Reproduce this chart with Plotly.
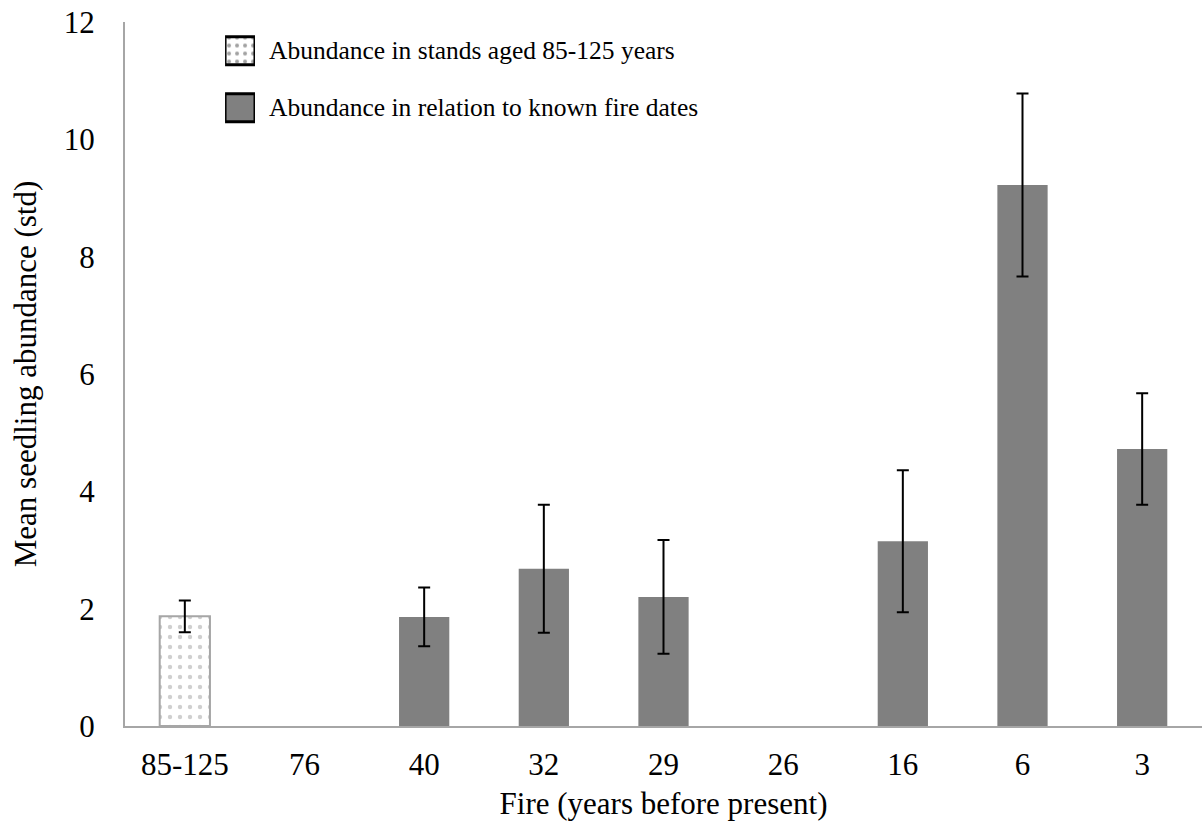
import plotly.graph_objects as go

categories = ["85-125", "76", "40", "32", "29", "26", "16", "6", "3"]
stand_cat = ["85-125"]
stand_mean = [1.87]
stand_err = [0.27]
fire_cat = ["76", "40", "32", "29", "26", "16", "6", "3"]
fire_mean = [0, 1.86, 2.68, 2.2, 0, 3.15, 9.22, 4.72]
fire_err = [None, 0.5, 1.09, 0.97, None, 1.21, 1.56, 0.95]
legend_labels = ["Abundance in stands aged 85-125 years",
                 "Abundance in relation to known fire dates"]

FONT = "Liberation Serif"
GRAY = "#808080"

fig = go.Figure()
fig.add_trace(go.Bar(
    x=stand_cat, y=stand_mean,
    marker=dict(color="white", line=dict(color="#a6a6a6", width=2),
                pattern=dict(shape=".", fgcolor="#a0a0a0", bgcolor="white", size=10, solidity=0.15)),
    error_y=dict(type="data", array=stand_err, color="black", thickness=2, width=6),
    showlegend=False,
))
fig.add_trace(go.Bar(
    x=fire_cat, y=fire_mean,
    marker=dict(color=GRAY, line=dict(width=0)),
    showlegend=False,
))
# error bars only where a std is given
err_y = [m if e is not None else None for m, e in zip(fire_mean, fire_err)]
err_v = [e if e is not None else 0 for e in fire_err]
fig.add_trace(go.Scatter(
    x=fire_cat, y=err_y, mode="markers", marker=dict(size=1, opacity=0),
    error_y=dict(type="data", array=err_v, color="black", thickness=2, width=6),
    showlegend=False, hoverinfo="skip",
))

# custom legend swatches
fig.add_trace(go.Bar(
    x=[1, 1], y=[1, 0], base=0, orientation="h", width=0.49,
    xaxis="x2", yaxis="y2", showlegend=False, hoverinfo="skip",
    marker=dict(color=["white", GRAY], line=dict(color="black", width=3),
                pattern=dict(shape=[".", ""], fgcolor="#777777", bgcolor="white", size=8, solidity=0.2)),
))

for yp, txt in zip([1, 0], legend_labels):
    fig.add_annotation(x=0, y=yp, xref="paper", yref="y2", text=txt, showarrow=False,
                       xanchor="left", yanchor="middle", xshift=142,
                       font=dict(family=FONT, size=25.5, color="black"))

fig.update_layout(
    width=1202, height=826,
    margin=dict(l=125, r=0, t=22, b=100),
    paper_bgcolor="white", plot_bgcolor="white",
    barmode="overlay", bargap=0.58,
    font=dict(family=FONT, size=31, color="black"),
    xaxis=dict(categoryorder="array", categoryarray=categories, range=[-0.5, 8.5],
               showline=True, linecolor="#a6a6a6", linewidth=2, showgrid=False,
               ticks="", ticklabelstandoff=10, tickfont=dict(size=31),
               title=dict(text="Fire (years before present)", standoff=11,
                          font=dict(family=FONT, size=31))),
    yaxis=dict(range=[0, 12], tick0=0, dtick=2, showline=True, linecolor="#a6a6a6", linewidth=2,
               showgrid=False, zeroline=False, ticks="", ticklabelstandoff=22, tickfont=dict(size=31),
               title=dict(text="Mean seedling abundance (std)", standoff=18,
                          font=dict(family=FONT, size=31))),
    xaxis2=dict(domain=[0.0929, 0.1207], range=[0, 1], anchor="y2", visible=False, fixedrange=True),
    yaxis2=dict(domain=[0.8537, 0.9836], range=[-0.3, 1.3], anchor="x2", visible=False, fixedrange=True),
)

fig.write_html("out.html")
